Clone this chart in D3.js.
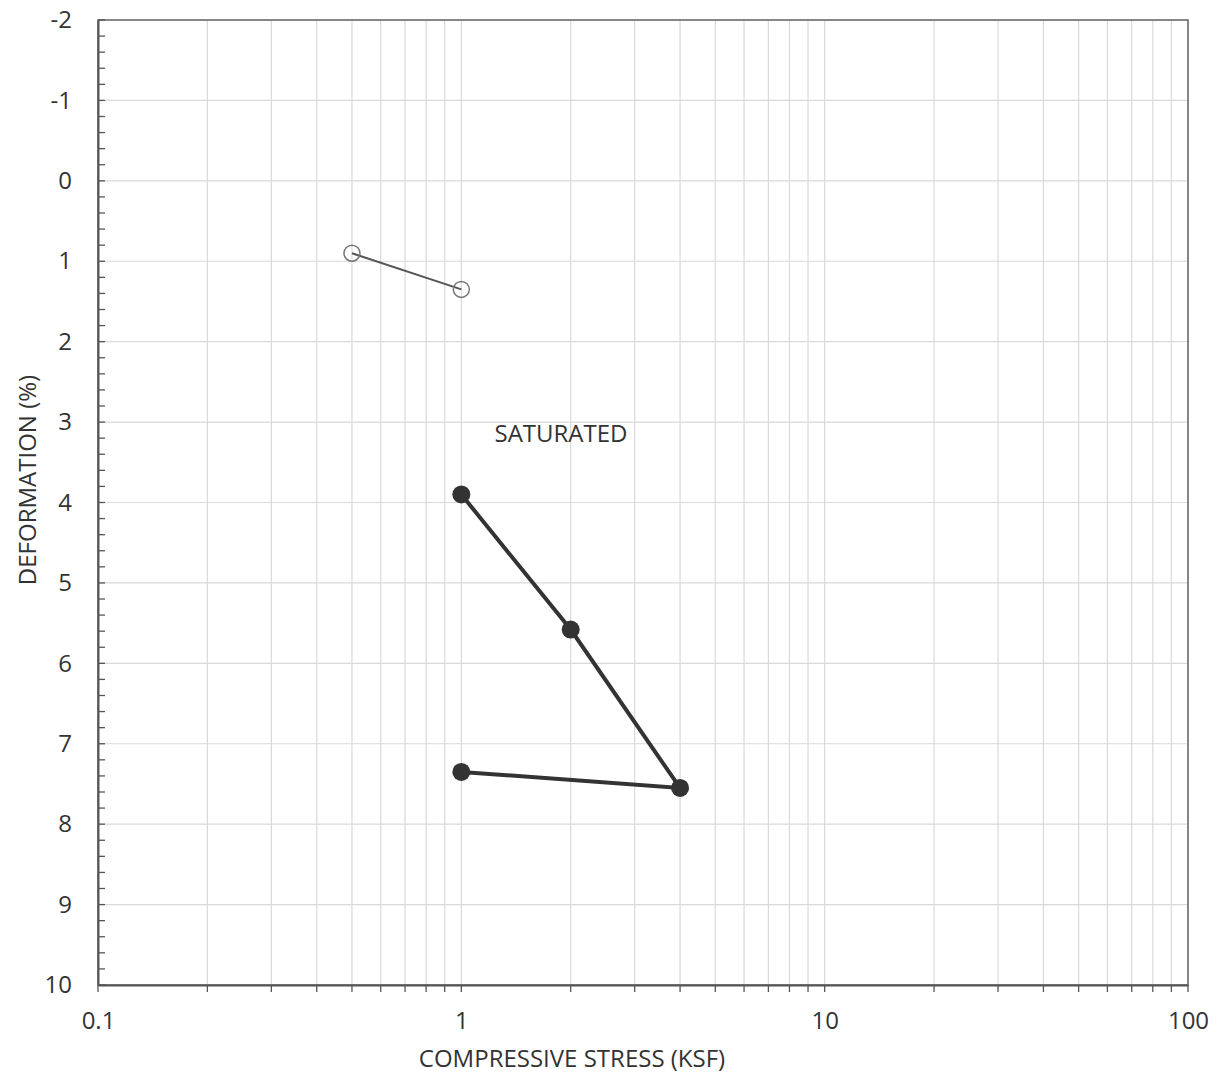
<!DOCTYPE html>
<html><head><meta charset="utf-8">
<script src="https://cdn.jsdelivr.net/npm/d3@7"></script>
<style>body{margin:0;background:#fff}svg{display:block}text{font-family:"Open Sans",sans-serif;fill:#333}</style>
</head><body><svg id="c" width="1225" height="1076"></svg>
<script>
const openStress = [0.5, 1];
const openDeform = [0.9, 1.35];
const satStress = [1, 2, 4, 1];
const satDeform = [3.9, 5.58, 7.55, 7.35];
const xTickLabels = [0.1, 1, 10, 100];
const yTickLabels = [-2, -1, 0, 1, 2, 3, 4, 5, 6, 7, 8, 9, 10];
const annotation = "SATURATED";

const L = 98, R = 1188, T = 20, B = 985;
const svg = d3.select("#c");
const x = d3.scaleLog().domain([0.1, 100]).range([L, R]);
const y = d3.scaleLinear().domain([-2, 10]).range([T, B]);

// vertical grid
const vgrid = [];
for (let d = 0.1; d < 100; d *= 10) for (let k = 1; k <= 9; k++) vgrid.push(+(d * k).toPrecision(3));
vgrid.push(100);
svg.append("g").selectAll("line").data(vgrid).join("line")
  .attr("x1", d => x(d)).attr("x2", d => x(d)).attr("y1", T).attr("y2", B)
  .attr("stroke", "#d9d9d9").attr("stroke-width", 1.2);
svg.append("g").selectAll("line").data(yTickLabels).join("line")
  .attr("x1", L).attr("x2", R).attr("y1", d => y(d)).attr("y2", d => y(d))
  .attr("stroke", "#d9d9d9").attr("stroke-width", 1.2);

// frame
svg.append("rect").attr("x", L).attr("y", T).attr("width", R - L).attr("height", B - T)
  .attr("fill", "none").attr("stroke", "#666").attr("stroke-width", 1.5);

// y axis
const yMinor = d3.range(-2, 10.001, 0.2).map(v => +v.toFixed(1));
svg.append("g").selectAll("line").data(yMinor).join("line")
  .attr("x1", L).attr("x2", L + 7).attr("y1", d => y(d)).attr("y2", d => y(d))
  .attr("stroke", "#555").attr("stroke-width", 1.3);
svg.append("g").attr("transform", `translate(${L},0)`)
  .call(d3.axisLeft(y).tickValues(yTickLabels).tickSize(0).tickPadding(26).tickFormat(d => String(d)))
  .call(g => g.select(".domain").attr("stroke", "#555").attr("stroke-width", 2))
  .call(g => g.selectAll("text").attr("font-size", 24).attr("fill", "#333").attr("font-family", "Open Sans, sans-serif"));

// x axis
svg.append("g").selectAll("line").data(vgrid).join("line")
  .attr("x1", d => x(d)).attr("x2", d => x(d)).attr("y1", B).attr("y2", B + 7)
  .attr("stroke", "#555").attr("stroke-width", 1.3);
svg.append("g").attr("transform", `translate(0,${B})`)
  .call(d3.axisBottom(x).tickValues(xTickLabels).tickSize(0).tickPadding(27).tickFormat(d => String(d)))
  .call(g => g.select(".domain").attr("stroke", "#555").attr("stroke-width", 2))
  .call(g => g.selectAll("text").attr("font-size", 24).attr("fill", "#333").attr("font-family", "Open Sans, sans-serif"));

// axis titles
svg.append("text").attr("x", 572).attr("y", 1067).attr("text-anchor", "middle")
  .attr("font-size", 24).text("COMPRESSIVE STRESS (KSF)");
svg.append("text").attr("transform", "translate(36,480) rotate(-90)").attr("text-anchor", "middle")
  .attr("font-size", 24).text("DEFORMATION (%)");

// open series
const line = d3.line().x(d => x(d[0])).y(d => y(d[1]));
const openData = openStress.map((s, i) => [s, openDeform[i]]);
svg.append("path").datum(openData).attr("d", line).attr("fill", "none")
  .attr("stroke", "#555").attr("stroke-width", 2);
svg.append("g").selectAll("circle").data(openData).join("circle")
  .attr("cx", d => x(d[0])).attr("cy", d => y(d[1])).attr("r", 8)
  .attr("fill", "none").attr("stroke", "#777").attr("stroke-width", 1.5);

// saturated series
const satData = satStress.map((s, i) => [s, satDeform[i]]);
svg.append("path").datum(satData).attr("d", line).attr("fill", "none")
  .attr("stroke", "#333").attr("stroke-width", 4);
svg.append("g").selectAll("circle").data(satData).join("circle")
  .attr("cx", d => x(d[0])).attr("cy", d => y(d[1])).attr("r", 9)
  .attr("fill", "#333");

svg.append("text").attr("x", 561).attr("y", 442).attr("text-anchor", "middle")
  .attr("font-size", 24).attr("fill", "#333").text(annotation);
</script></body></html>
